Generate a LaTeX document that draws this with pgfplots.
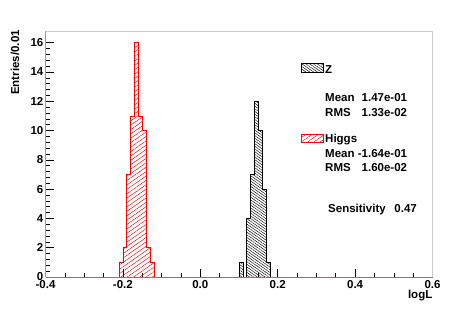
\documentclass[border=0pt]{standalone}
\usepackage{pgfplots}
\pgfplotsset{compat=1.18}
\usepackage{fontspec}
\setmainfont{Liberation Sans}
\usetikzlibrary{patterns.meta}
\definecolor{axbrown}{RGB}{150,112,112}
\begin{document}
\begin{tikzpicture}[font=\fontsize{11.5}{13}\selectfont\bfseries]
\begin{axis}[
  at={(0,0)}, anchor=south west,
  scale only axis, width=387pt, height=246pt,
  xmin=-0.4, xmax=0.6, ymin=0, ymax=16.8,
  xtick={-0.4,-0.2,0,0.2,0.4,0.6},
  ytick={0,2,4,6,8,10,12,14,16},
  minor x tick num=3, minor y tick num=4,
  tick align=inside, xtick pos=left, ytick pos=left,
  major tick length=8pt, minor tick length=4pt,
  tick style={black, line width=0.6pt},
  axis line style={draw=none},
  /pgf/number format/assume math mode=true,
  xticklabel style={/pgf/number format/.cd, fixed, fixed zerofill, precision=1},
  yticklabel style={inner sep=2pt},
  clip=false,
]
\addplot[const plot, draw=black, line width=0.7pt,
  pattern={Lines[angle=-35,distance=2.2pt,line width=0.45pt]}, pattern color=black]
  coordinates {(0.10,1) (0.11,0) (0.12,4) (0.13,7) (0.14,12) (0.15,10) (0.16,6) (0.17,1) (0.18,1)} \closedcycle;
\addplot[const plot, draw=red, line width=0.7pt,
  pattern={Lines[angle=35,distance=3.6pt,line width=0.45pt]}, pattern color=red]
  coordinates {(-0.21,1) (-0.20,2) (-0.19,7) (-0.18,11) (-0.17,16) (-0.16,11) (-0.15,10) (-0.14,2) (-0.13,1) (-0.12,1)} \closedcycle;
\draw[gray!40, line width=0.6pt] (rel axis cs:0,1) -- (rel axis cs:1,1) -- (rel axis cs:1,0);
\draw[gray!80, line width=0.7pt] (rel axis cs:0,0) -- (rel axis cs:0,1);
\draw[axbrown, line width=0.9pt] (rel axis cs:0,0) -- (rel axis cs:1,0);
\end{axis}
% axis titles
\node[rotate=90, anchor=east, inner sep=0pt] at (-30.5pt,247pt) {Entries/0.01};
\node[anchor=east, inner sep=0pt] at (387pt,-19pt) {logL};
% legend
\begin{scope}[font=\fontsize{11.5}{13}\selectfont\bfseries]
\draw[black, line width=0.6pt, pattern={Lines[angle=-35,distance=2.2pt,line width=0.45pt]}, pattern color=black]
  (256.2pt,204.3pt) rectangle (277.8pt,213.7pt);
\node[anchor=base west, inner sep=0pt] at (279.5pt,203.7pt) {Z};
\node[anchor=base west, inner sep=0pt] at (279.5pt,175.4pt) {Mean};
\node[anchor=base east, inner sep=0pt] at (361.8pt,175.4pt) {1.47e-01};
\node[anchor=base west, inner sep=0pt] at (279.5pt,161pt) {RMS};
\node[anchor=base east, inner sep=0pt] at (361.8pt,161pt) {1.33e-02};
\draw[red, line width=0.6pt, pattern={Lines[angle=35,distance=3.6pt,line width=0.45pt]}, pattern color=red]
  (256.2pt,134.3pt) rectangle (277.5pt,143pt);
\node[anchor=base west, inner sep=0pt] at (279.5pt,134.7pt) {Higgs};
\node[anchor=base west, inner sep=0pt] at (279.5pt,119.4pt) {Mean};
\node[anchor=base east, inner sep=0pt] at (361.8pt,119.4pt) {-1.64e-01};
\node[anchor=base west, inner sep=0pt] at (279.5pt,106pt) {RMS};
\node[anchor=base east, inner sep=0pt] at (361.8pt,106pt) {1.60e-02};
\node[anchor=base west, inner sep=0pt] at (282.5pt,64.4pt) {Sensitivity};
\node[anchor=base east, inner sep=0pt] at (371.5pt,64.4pt) {0.47};
\end{scope}
\pgfresetboundingbox
\path (-45.5pt,-32pt) rectangle (411.5pt,277pt);
\end{tikzpicture}
\end{document}
